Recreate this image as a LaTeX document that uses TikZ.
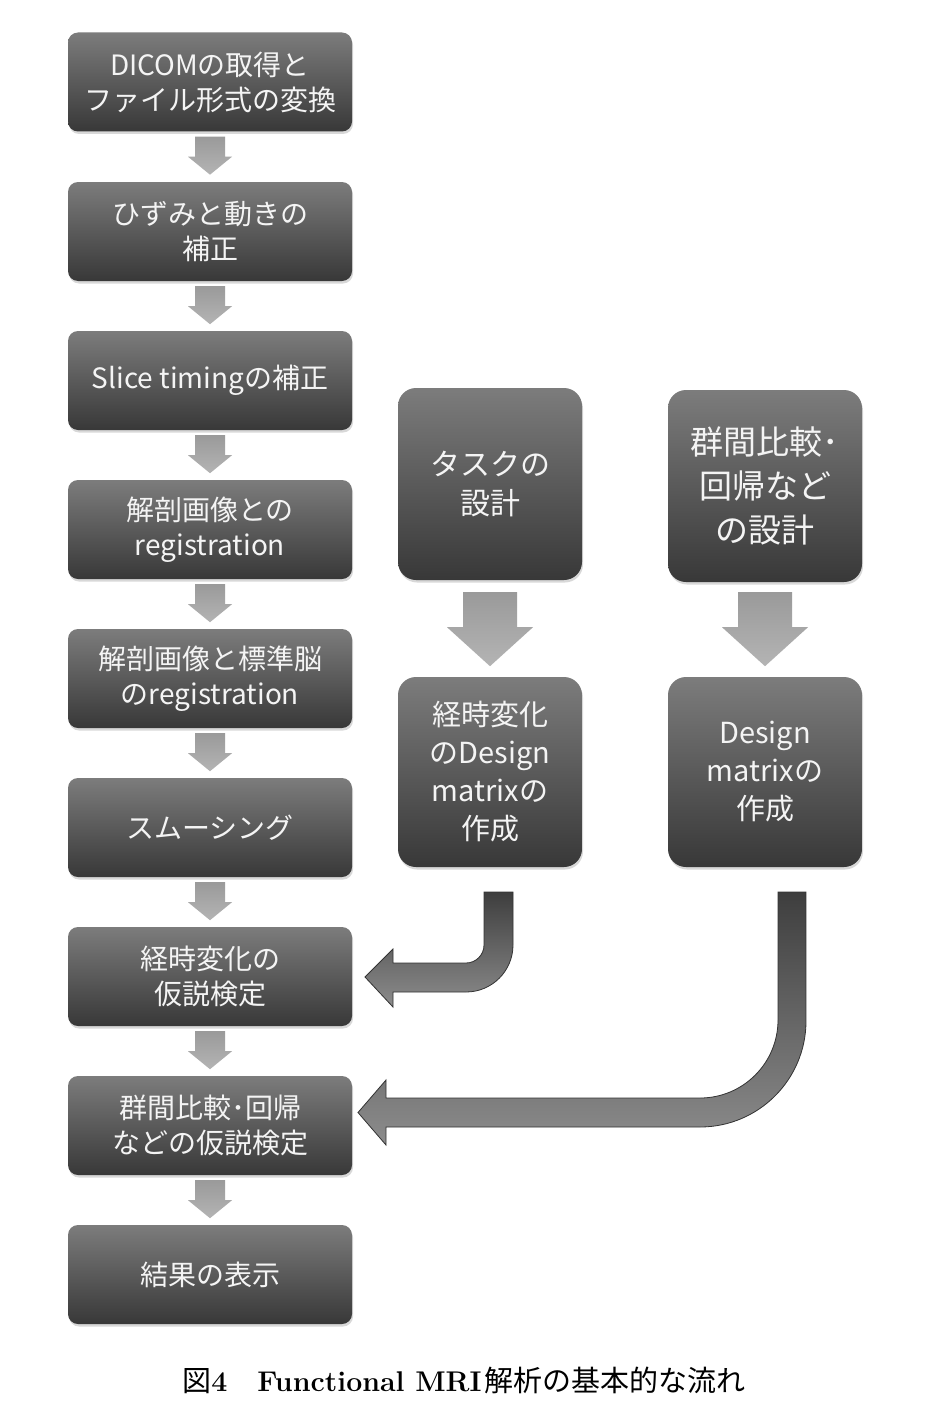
\documentclass[tikz,border=0pt]{standalone}
\usepackage{fontspec}
\newfontfamily\cjk{Noto Sans CJK JP}
\usetikzlibrary{shadows,calc}
\definecolor{boxtop}{HTML}{7C7C7C}
\definecolor{boxbot}{HTML}{383838}
\definecolor{boxtext}{HTML}{F4F4F4}
\definecolor{arrtop}{HTML}{9A9A9A}
\definecolor{arrbot}{HTML}{B4B4B4}
\definecolor{cvtop}{HTML}{3E3E3E}
\definecolor{cvbot}{HTML}{8C8C8C}
\definecolor{cvline}{HTML}{333333}
\tikzset{
  box/.style={rounded corners=10pt, minimum width=284pt, minimum height=99pt,
    inner sep=0pt, top color=boxtop, bottom color=boxbot,
    drop shadow={shadow xshift=1pt,shadow yshift=-2.5pt,opacity=0.3},
    align=center, text=boxtext, font=\cjk\fontsize{28}{35}\selectfont},
  tallbox/.style={box, rounded corners=18pt, minimum height=192pt,
    font=\cjk\fontsize{30}{39}\selectfont},
  smallarr/.pic={\shade[top color=arrtop,bottom color=arrbot]
    (-15,0) -- (15,0) -- (15,20) -- (22,20) -- (0,38) -- (-22,20) -- (-15,20) -- cycle;},
  bigarr/.pic={\shade[top color=arrtop,bottom color=arrbot]
    (-27,0) -- (27,0) -- (27,35) -- (43,35) -- (0,74) -- (-43,35) -- (-27,35) -- cycle;},
  curved/.style={top color=cvtop, bottom color=cvbot, draw=cvline, line width=0.8pt, line join=miter}
}
\begin{document}
\begin{tikzpicture}[x=1pt,y=-1pt]
\useasboundingbox[fill=white] (0,0) rectangle (940,1426);

% left column
\node[box] (b1) at (210,82)     {DICOMの取得と\\ファイル形式の変換};
\node[box] (b2) at (210,231.5)  {ひずみと動きの\\補正};
\node[box] (b3) at (210,380.5)  {Slice timingの補正};
\node[box] (b4) at (210,529.5)  {解剖画像との\\registration};
\node[box] (b5) at (210,678.5)  {解剖画像と標準脳\\のregistration};
\node[box] (b6) at (210,827.5)  {スムーシング};
\node[box] (b7) at (210,976.5)  {経時変化の\\仮説検定};
\node[box] (b8) at (210,1125.5) {群間比較･回帰\\などの仮説検定};
\node[box] (b9) at (210,1274.5) {結果の表示};

\foreach \i in {1,...,8} {\pic at ($(b\i.south)+(0,5)$) {smallarr};}

% middle column
\node[tallbox, minimum width=184pt] (m1) at (490,484) {タスクの\\設計};
\node[tallbox, minimum width=184pt, minimum height=190pt, font=\cjk\fontsize{29}{38}\selectfont] (m2) at (490,772) {経時変化\\のDesign\\matrixの\\作成};
\pic at ($(m1.south)+(0,12)$) {bigarr};

% right column
\node[tallbox, minimum width=194pt, font=\cjk\fontsize{33}{44}\selectfont] (r1) at (765,486) {群間比較･\\回帰など\\の設計};
\node[tallbox, minimum width=194pt, minimum height=190pt, font=\cjk\fontsize{29}{38}\selectfont] (r2) at (765,772) {Design\\matrixの\\作成};
\pic at ($(r1.south)+(0,10)$) {bigarr};

% curved block arrows
\shadedraw[curved] (484,892) -- (513,892) -- (513,945) arc[start angle=0,end angle=90,radius=47]
  -- (393,992) -- (393,1007) -- (365,977) -- (393,949) -- (393,963) -- (466,963)
  arc[start angle=90,end angle=0,radius=18] -- cycle;
\shadedraw[curved] (778,892) -- (806,892) -- (806,1021) arc[start angle=0,end angle=90,radius=106]
  -- (386,1127) -- (386,1145) -- (358,1112.5) -- (386,1080) -- (386,1098) -- (700,1098)
  arc[start angle=90,end angle=0,radius=78] -- cycle;

% caption
\node (cap) at (464,1380) {{\cjk\fontsize{29}{30}\selectfont 図}{\fontsize{28.5}{30}\selectfont\textbf{4}\hspace{30pt}\textbf{Functional MRI}}\hspace{3pt}{\cjk\fontsize{29}{30}\selectfont 解析の基本的な流れ}};
\end{tikzpicture}
\end{document}
